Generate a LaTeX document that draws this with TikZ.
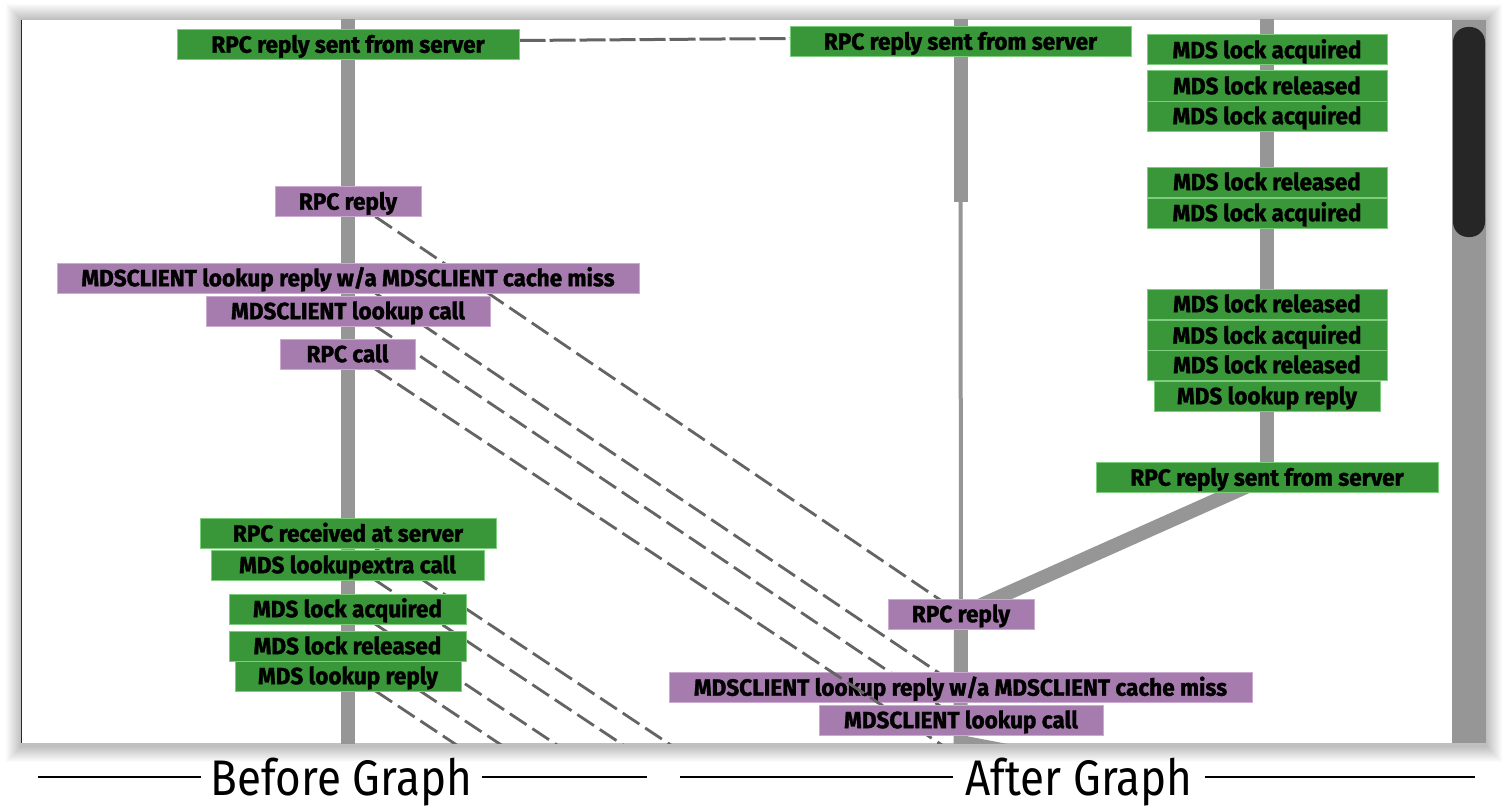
\documentclass[tikz,border=0pt]{standalone}
\usepackage{fontspec}
\newfontfamily\lblfont[FakeStretch=0.96,FakeBold=1.4]{Fira Sans}
\newfontfamily\ttlfont[FakeStretch=0.88]{Fira Sans}
\usetikzlibrary{calc}
\pgfdeclarelayer{base}
\pgfdeclarelayer{bg}
\pgfsetlayers{base,bg,main}
\definecolor{grn}{RGB}{57,150,57}
\definecolor{grnb}{RGB}{125,205,125}
\definecolor{prp}{RGB}{166,123,173}
\definecolor{prpb}{RGB}{205,170,210}
\definecolor{barc}{RGB}{150,150,150}
\definecolor{dsh}{RGB}{100,100,100}
\definecolor{thumb}{RGB}{38,38,38}
\begin{document}
\begin{tikzpicture}[x=1pt,y=-1pt,
  lbl/.style={inner sep=0pt, minimum height=30pt, text height=16.4pt, text depth=0pt,
    font=\lblfont\bfseries\fontsize{23.5}{26}\selectfont, line width=1pt},
  gbox/.style={lbl, fill=grn, draw=grnb},
  pbox/.style={lbl, fill=prp, draw=prpb},
  conn/.style={draw=dsh, line width=2.8pt, dash pattern=on 20pt off 7pt},
  hconn/.style={draw=dsh, line width=3pt, dash pattern=on 26pt off 4pt},
  barthick/.style={draw=barc, line width=14pt},
  barthin/.style={draw=barc, line width=4pt},
  ttl/.style={font=\ttlfont\fontsize{50}{56}\selectfont, inner sep=0pt, anchor=base},
  rulel/.style={draw=black, line width=2pt}]
\begin{pgfonlayer}{base}
\useasboundingbox (0,0) rectangle (1510,808);
\fill[white] (0,0) rectangle (1510,808);
% window shadow
\foreach \i in {1,...,16}{
  \fill[black, opacity=0.016] (22-\i,20-\i) rectangle (1486+\i,743+\i+3);
}
\fill[white] (22,20) rectangle (1452,743);
\fill[barc] (1452,20) rectangle (1486,743);
\fill[thumb, rounded corners=15pt] (1453,27) rectangle (1485,237);
\draw[black!85, line width=1.2pt] (21.6,20) -- (21.6,743);
\end{pgfonlayer}

\begin{scope}
\clip (22,20) rectangle (1452,743);
% Before graph
\node[gbox, minimum width=342pt] (bA) at (348,44.5) {RPC reply sent from server};
\node[pbox, minimum width=146pt] (bB) at (348,201.5) {RPC reply};
\node[pbox, minimum width=582pt] (bC) at (348,278) {MDSCLIENT lookup reply w/a MDSCLIENT cache miss};
\node[pbox, minimum width=284pt] (bD) at (348,311) {MDSCLIENT lookup call};
\node[pbox, minimum width=135pt] (bE) at (347.5,354) {RPC call};
\node[gbox, minimum width=296pt] (bF) at (348,533.5) {RPC received at server};
\node[gbox, minimum width=273pt] (bG) at (347.5,565) {MDS lookupextra call};
\node[gbox, minimum width=237pt] (bH) at (347.5,609) {MDS lock acquired};
\node[gbox, minimum width=237pt] (bI) at (347.5,646) {MDS lock released};
\node[gbox, minimum width=226pt] (bJ) at (348,676) {MDS lookup reply};
% After graph, first column
\node[gbox, minimum width=341pt] (aA) at (960.5,41.5) {RPC reply sent from server};
\node[pbox, minimum width=146pt] (aB) at (961,614) {RPC reply};
\node[pbox, minimum width=583pt] (aC) at (960.5,687.5) {MDSCLIENT lookup reply w/a MDSCLIENT cache miss};
\coordinate (aE) at (960,757);
\coordinate (aF) at (960,742);
% After graph, second column
\node[gbox, minimum width=240pt] (cA) at (1267,50) {MDS lock acquired};
\node[gbox, minimum width=240pt] (cB) at (1267,86) {MDS lock released};
\node[gbox, minimum width=240pt] (cC) at (1267,116) {MDS lock acquired};
\node[gbox, minimum width=240pt] (cD) at (1267,182) {MDS lock released};
\node[gbox, minimum width=240pt] (cE) at (1267,213) {MDS lock acquired};
\node[gbox, minimum width=240pt] (cF) at (1267,304) {MDS lock released};
\node[gbox, minimum width=240pt] (cG) at (1267,335.5) {MDS lock acquired};
\node[gbox, minimum width=240pt] (cH) at (1267,365) {MDS lock released};
\node[gbox, minimum width=226pt] (cI) at (1267,396) {MDS lookup reply};
\node[gbox, minimum width=342pt] (cJ) at (1267,477.5) {RPC reply sent from server};
% the RPC call connector shows over the lookup reply box
\begin{scope}
\clip (aC.south west) rectangle (aC.north east);
\draw[conn] ([xshift=5pt]bE.center) -- (aE);
\end{scope}
\node[pbox, minimum width=284pt] (aD) at (961,720) {MDSCLIENT lookup call};
\end{scope}

\begin{pgfonlayer}{bg}
\begin{scope}
\clip (22,20) rectangle (1452,743);
\coordinate (bTop) at (348,10);
\coordinate (bBot) at (348,760);
\coordinate (aTop) at (960.5,10);
\coordinate (aMid) at (960.5,202);
\coordinate (aBot) at (960.5,760);
\coordinate (cTop) at (1267,10);
\coordinate (aFar) at (1400,826);
\coordinate (tF) at (960,937.5);
\coordinate (tG) at (960,969);
\coordinate (tH) at (960,1013);
\coordinate (tI) at (960,1050);
\coordinate (tJ) at (960,1080);
% trunks
\draw[barthick] (bTop) -- (bBot);
\draw[barthick] (aTop) -- (aMid);
\draw[barthin] (aMid) -- (aB.center);
\draw[barthick] (aB.center) -- (aBot);
\draw[barthick] (cTop) -- (cJ.center);
\draw[barthick] (cJ.center) -- (aB.center);
\draw[barthick] (aF) -- (aFar);
% cross-graph connectors
\draw[hconn] ([yshift=4pt]bA.east) -- ([yshift=3pt]aA.west);
\draw[conn] ([xshift=5pt]bB.center) -- (aB.center);
\draw[conn] ([xshift=5pt]bC.center) -- (aC.center);
\draw[conn] ([xshift=5pt]bD.center) -- (aD.center);
\draw[conn] ([xshift=5pt]bE.center) -- (aE);
\draw[conn] ([xshift=5pt]bF.center) -- (tF);
\draw[conn] ([xshift=5pt]bG.center) -- (tG);
\draw[conn] ([xshift=5pt]bH.center) -- (tH);
\draw[conn] ([xshift=5pt]bI.center) -- (tI);
\draw[conn] ([xshift=5pt]bJ.center) -- (tJ);
\end{scope}
\end{pgfonlayer}

% titles
\node[ttl] (t1) at (341.5,795) {Before Graph};
\node[ttl] (t2) at (1079,795) {After Graph};
\coordinate (r1a) at (38,777);
\coordinate (r1b) at (647,777);
\coordinate (r2a) at (680,777);
\coordinate (r2b) at (1475,777);
\draw[rulel] (r1a) -- ([xshift=-10pt]t1.west |- r1a);
\draw[rulel] ([xshift=10pt]t1.east |- r1b) -- (r1b);
\draw[rulel] (r2a) -- ([xshift=-12pt]t2.west |- r2a);
\draw[rulel] ([xshift=12pt]t2.east |- r2b) -- (r2b);
\end{tikzpicture}
\end{document}
